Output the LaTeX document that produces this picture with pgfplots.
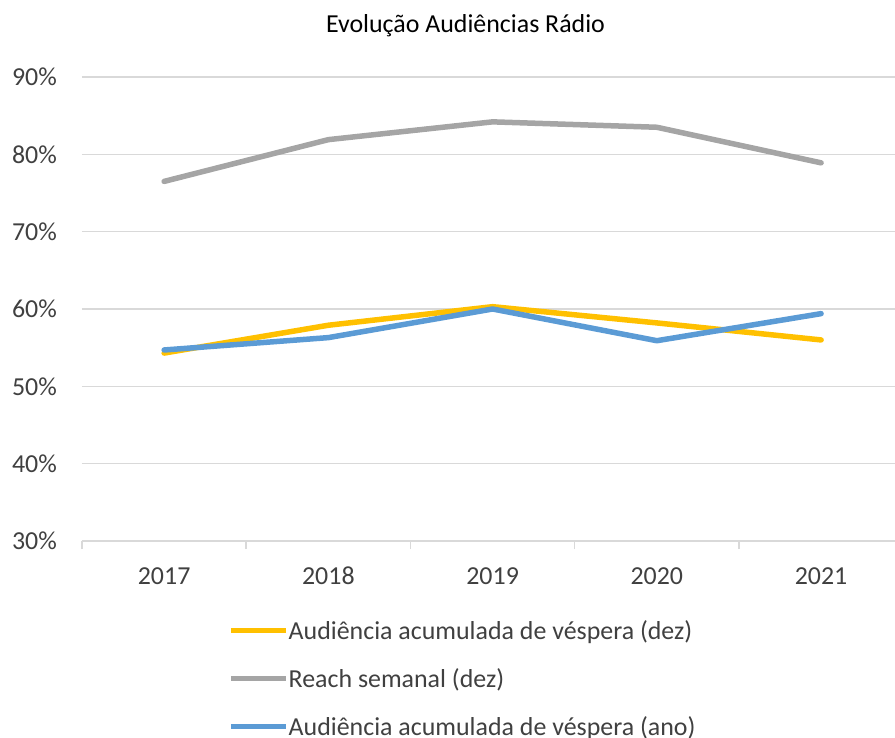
\documentclass[border=0pt]{standalone}
\usepackage{pgfplots}
\pgfplotsset{compat=1.18}
\usepackage{fontspec}
\setmainfont{Carlito}
\definecolor{cY}{HTML}{FFC000}
\definecolor{cG}{HTML}{A5A5A5}
\definecolor{cB}{HTML}{5B9BD5}
\definecolor{gridc}{HTML}{D9D9D9}
\definecolor{txt}{HTML}{404040}
\begin{document}
\begin{tikzpicture}
\begin{axis}[
  at={(0,0)}, anchor=south west,
  scale only axis, width=813bp, height=464bp,
  xmin=-0.5, xmax=4.45, ymin=30, ymax=90,
  ytick={30,40,...,90},
  yticklabel={\pgfmathprintnumber{\tick}\%},
  xtick={0,1,2,3,4}, xticklabels={2017,2018,2019,2020,2021},
  major tick length=0pt,
  axis x line*=bottom,
  x axis line style={draw=gridc, line width=1.5bp},
  y axis line style={draw=none},
  ymajorgrids, grid style={draw=gridc, line width=1.5bp},
  extra x ticks={-0.5,0.5,1.5,2.5,3.5},
  extra x tick labels={},
  extra x tick style={grid=none, major tick length=8bp, tick align=outside, tick style={draw=gridc, line width=1.5bp}},
  /pgf/number format/assume math mode=true,
  tick label style={font=\fontsize{26}{31}\selectfont, text=txt},
  yticklabel style={anchor=east, inner sep=0pt, xshift=-25bp},
  xticklabel style={anchor=north, inner sep=0pt, yshift=-26bp},
  title={Evolução Audiências Rádio},
  title style={font=\fontsize{26}{31}\selectfont, text=black, at={(0.5,1)}, anchor=base, inner sep=0pt, yshift=39bp, xshift=-23bp},
  legend style={at={(0.1845,0)}, anchor=north west, yshift=-79bp, xshift=-4bp, draw=none, fill=none, inner sep=0pt,
    row sep=27.5bp, nodes={inner sep=0pt, text=txt, font=\fontsize{26}{31}\selectfont},
    /tikz/every odd column/.append style={column sep=0bp}},
  legend cell align=left,
  legend image code/.code={\draw[#1, line cap=butt] (0bp,0bp) -- (55bp,0bp);},
  every axis plot/.append style={line width=5.5bp, line join=round, line cap=round},
]
\addplot[cY] coordinates {(0,54.3) (1,57.9) (2,60.3) (3,58.2) (4,56.0)};
\addlegendentry{Audiência acumulada de véspera (dez)}
\addplot[cG] coordinates {(0,76.5) (1,81.9) (2,84.2) (3,83.5) (4,78.9)};
\addlegendentry{Reach semanal (dez)}
\addplot[cB] coordinates {(0,54.7) (1,56.3) (2,60.0) (3,55.9) (4,59.4)};
\addlegendentry{Audiência acumulada de véspera (ano)}
\end{axis}
\pgfresetboundingbox
\useasboundingbox (-82bp,-197bp) rectangle (813bp,541bp);
\end{tikzpicture}
\end{document}
